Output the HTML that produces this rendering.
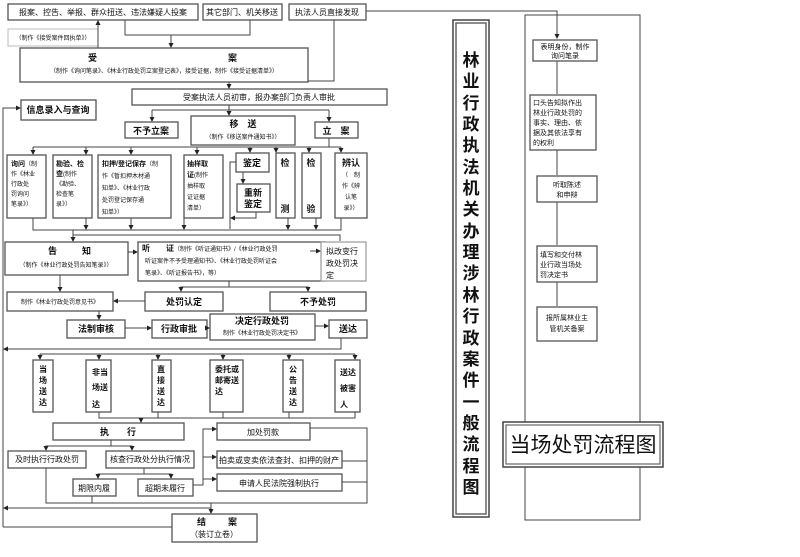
<!DOCTYPE html>
<html><head><meta charset="utf-8"><style>
html,body{margin:0;padding:0;background:#fff}
svg{display:block}
text{font-family:"Liberation Sans","Noto Sans CJK SC",sans-serif;fill:#111}
.b{fill:#fff;stroke:#555;stroke-width:1.3}
.l{fill:none;stroke:#444;stroke-width:1}
.s{font-size:6px}
.r{font-size:7px}
.m{font-size:8px}
.t{font-size:9px;font-weight:bold}
</style></head><body>
<svg width="800" height="557" viewBox="0 0 800 557" xmlns="http://www.w3.org/2000/svg">
<defs><marker id="a" markerWidth="5" markerHeight="5" refX="4" refY="2.5" orient="auto"><path d="M0,0L5,2.5L0,5z" fill="#222"/></marker></defs>

<rect class="b" x="8" y="4" width="190" height="16"/><text class="m" x="103" y="15" text-anchor="middle">报案、控告、举报、群众扭送、违法嫌疑人投案</text>
<rect class="b" x="203" y="4" width="79" height="16"/><text class="m" x="242" y="15" text-anchor="middle">其它部门、机关移送</text>
<rect class="b" x="289" y="4" width="77" height="16"/><text class="m" x="327" y="15" text-anchor="middle">执法人员直接发现</text>
<path class="l" d="M366,11H557V38" marker-end="url(#a)"/>
<rect x="8" y="29" width="90" height="17" fill="#fff" stroke="#bbb"/><text class="s" x="53" y="40" text-anchor="middle">（制作《接受案件回执单》）</text>
<path class="l" d="M98,48V21" marker-end="url(#a)"/>
<path class="l" d="M125,20V35H250V20"/><path class="l" d="M171,35V47" marker-end="url(#a)"/>
<rect class="b" x="20" y="48" width="288" height="34"/>
<text class="t" x="88" y="61">受</text><text class="t" x="228" y="61">案</text>
<text class="s" x="164" y="73" text-anchor="middle">（制作《询问笔录》、《林业行政处罚立案登记表》，接受证据，制作《接受证据清单》）</text>
<path class="l" d="M334,20V81H308"/>
<path class="l" d="M229,82V88" marker-end="url(#a)"/>
<rect class="b" x="132" y="89" width="255" height="16"/><text class="m" x="259" y="100" text-anchor="middle">受案执法人员初审，报办案部门负责人审批</text>
<path class="l" d="M152,110H329"/><path class="l" d="M229,105V115" marker-end="url(#a)"/>
<path class="l" d="M152,110V121" marker-end="url(#a)"/><path class="l" d="M329,110V121" marker-end="url(#a)"/>
<rect class="b" x="125" y="122" width="53" height="16"/><text class="t" x="151" y="134" text-anchor="middle">不予立案</text>
<rect class="b" x="191" y="116" width="104" height="29"/><text class="t" x="243" y="127" text-anchor="middle">移　送</text><text class="s" x="243" y="139" text-anchor="middle">（制作《移送案件通知书》）</text>
<rect class="b" x="315" y="122" width="43" height="16"/><text class="t" x="336" y="134" text-anchor="middle">立　案</text>
<path class="l" d="M329,138V147"/>
<rect class="b" x="21" y="100" width="75" height="20"/><text class="t" x="58" y="113" text-anchor="middle">信息录入与查询</text>
<path class="l" d="M3,527V108H20" marker-end="url(#a)"/>

<path class="l" d="M33,147H341"/>
<g class="l"><path d="M33,147V154" marker-end="url(#a)"/><path d="M86,147V154" marker-end="url(#a)"/><path d="M131,147V154" marker-end="url(#a)"/><path d="M197,147V154" marker-end="url(#a)"/><path d="M250,147V152" marker-end="url(#a)"/><path d="M276,147V152" marker-end="url(#a)"/><path d="M309,147V152" marker-end="url(#a)"/><path d="M341,147V152" marker-end="url(#a)"/></g>
<rect class="b" x="7" y="155" width="39" height="63"/>
<text class="s" x="11" y="166"><tspan font-weight="bold" font-size="7">询问</tspan>（制</text><text class="s" x="11" y="176">作《林业</text><text class="s" x="11" y="186">行政处</text><text class="s" x="11" y="196">罚询问</text><text class="s" x="11" y="206">笔录》）</text>
<rect class="b" x="53" y="155" width="39" height="63"/>
<text class="s" x="56" y="166"><tspan font-weight="bold" font-size="7">勘验、检</tspan></text><text class="s" x="56" y="176"><tspan font-weight="bold" font-size="7">查</tspan>(制作</text><text class="s" x="56" y="186">《勘验、</text><text class="s" x="56" y="196">检查笔</text><text class="s" x="56" y="206">录》）</text>
<rect class="b" x="98" y="155" width="73" height="63"/>
<text class="s" x="102" y="166"><tspan font-weight="bold" font-size="7">扣押/登记保存</tspan>（制</text><text class="s" x="102" y="178">作《暂扣押木材通</text><text class="s" x="102" y="190">知单》、《林业行政</text><text class="s" x="102" y="202">处罚登记保存通</text><text class="s" x="102" y="214">知单》）</text>
<rect class="b" x="184" y="155" width="39" height="63"/>
<text class="s" x="187" y="166"><tspan font-weight="bold" font-size="7">抽样取</tspan></text><text class="s" x="187" y="177"><tspan font-weight="bold" font-size="7">证</tspan>(制作</text><text class="s" x="187" y="188">抽样取</text><text class="s" x="187" y="199">证证据</text><text class="s" x="187" y="210">清单）</text>
<rect class="b" x="236" y="153" width="33" height="19"/><text class="t" x="252" y="166" text-anchor="middle">鉴定</text>
<path class="l" d="M243,172V183" marker-end="url(#a)"/>
<rect class="b" x="237" y="184" width="33" height="28"/><text class="t" x="253" y="196" text-anchor="middle">重新</text><text class="t" x="253" y="207" text-anchor="middle">鉴定</text>
<path class="l" d="M236,162H230V229"/><path class="l" d="M256,212V218H231" marker-end="url(#a)"/>
<rect class="b" x="276" y="153" width="19" height="65"/><text class="t" x="285" y="166" text-anchor="middle">检</text><text class="t" x="285" y="212" text-anchor="middle">测</text>
<rect class="b" x="302" y="153" width="19" height="65"/><text class="t" x="311" y="166" text-anchor="middle">检</text><text class="t" x="311" y="212" text-anchor="middle">验</text>
<rect class="b" x="335" y="153" width="32" height="65"/><text class="t" x="351" y="166" text-anchor="middle">辨认</text>
<text class="s" x="351" y="177" text-anchor="middle">（　制</text><text class="s" x="351" y="188" text-anchor="middle">作《辨</text><text class="s" x="351" y="199" text-anchor="middle">认笔</text><text class="s" x="351" y="210" text-anchor="middle">录》）</text>
<path class="l" d="M33,218V230H341V218"/>
<g class="l"><path d="M86,218V229" marker-end="url(#a)"/><path d="M131,218V229" marker-end="url(#a)"/><path d="M184,218V229" marker-end="url(#a)"/><path d="M288,218V229" marker-end="url(#a)"/><path d="M316,218V229" marker-end="url(#a)"/></g>
<path class="l" d="M73,230V241" marker-end="url(#a)"/>
<path class="l" d="M73,235H340V241"/>

<rect class="b" x="5" y="242" width="123" height="33"/><text class="t" x="48" y="254">告</text><text class="t" x="82" y="254">知</text><text class="s" x="66" y="267" text-anchor="middle">（制作《林业行政处罚告知笔录》）</text>
<path class="l" d="M128,252H137" marker-end="url(#a)"/>
<rect class="b" x="138" y="242" width="187" height="39"/>
<text class="s" x="142" y="251"><tspan font-weight="bold" font-size="8">听　　证</tspan>（制作《听证通知书》/《林业行政处罚</text>
<text class="s" x="145" y="263">听证案件不予受理通知书》、《林业行政处罚听证会</text>
<text class="s" x="145" y="275">笔录》、《听证报告书》，等）</text>
<path class="l" d="M310,251H320" marker-end="url(#a)"/>
<rect x="321" y="242" width="45" height="39" fill="#fff" stroke="#999" stroke-width="1.2"/>
<text class="m" x="326" y="254">拟改变行</text><text class="m" x="326" y="266">政处罚决</text><text class="m" x="326" y="278">定</text>
<path class="l" d="M60,275V291" marker-end="url(#a)"/>
<path class="l" d="M229,281V287H181V291" marker-end="url(#a)"/><path class="l" d="M229,287H308V291" marker-end="url(#a)"/>
<rect class="b" x="7" y="292" width="106" height="19"/><text class="s" x="60" y="304" text-anchor="middle">制作《林业行政处罚意见书》</text>
<rect class="b" x="145" y="292" width="78" height="19"/><text class="t" x="184" y="305" text-anchor="middle">处罚认定</text>
<path class="l" d="M145,301H114" marker-end="url(#a)"/>
<rect class="b" x="270" y="292" width="96" height="19"/><text class="t" x="318" y="305" text-anchor="middle">不予处罚</text>
<path class="l" d="M99,311V319" marker-end="url(#a)"/>
<rect class="b" x="67" y="320" width="58" height="18"/><text class="t" x="96" y="332" text-anchor="middle">法制审核</text>
<path class="l" d="M125,328H151" marker-end="url(#a)"/>
<rect class="b" x="152" y="320" width="55" height="18"/><text class="t" x="179" y="332" text-anchor="middle">行政审批</text>
<path class="l" d="M207,328H209" marker-end="url(#a)"/>
<rect class="b" x="210" y="314" width="105" height="26"/><text class="t" x="262" y="324" text-anchor="middle">决定行政处罚</text><text class="s" x="262" y="335" text-anchor="middle">制作《林业行政处罚决定书》</text>
<path class="l" d="M315,326H328" marker-end="url(#a)"/>
<rect class="b" x="329" y="320" width="38" height="18"/><text class="t" x="348" y="332" text-anchor="middle">送达</text>
<path class="l" d="M341,338V349H4" marker-end="url(#a)"/>

<path class="l" d="M40,354H355"/>
<g class="l"><path d="M40,354V359" marker-end="url(#a)"/><path d="M99,354V359" marker-end="url(#a)"/><path d="M158,354V359" marker-end="url(#a)"/><path d="M223,354V359" marker-end="url(#a)"/><path d="M289,354V359" marker-end="url(#a)"/><path d="M355,354V359" marker-end="url(#a)"/></g>
<rect class="b" x="33" y="360" width="20" height="52"/><text x="43" y="372" text-anchor="middle" font-size="8" font-weight="bold">当</text><text x="43" y="383" text-anchor="middle" font-size="8" font-weight="bold">场</text><text x="43" y="394" text-anchor="middle" font-size="8" font-weight="bold">送</text><text x="43" y="405" text-anchor="middle" font-size="8" font-weight="bold">达</text>
<rect class="b" x="86" y="360" width="25" height="52"/><text x="92" y="375" font-size="8" font-weight="bold">非当</text><text x="92" y="390" font-size="8" font-weight="bold">场送</text><text x="92" y="407" font-size="8" font-weight="bold">达</text>
<rect class="b" x="152" y="360" width="19" height="52"/><text x="161" y="372" text-anchor="middle" font-size="8" font-weight="bold">直</text><text x="161" y="383" text-anchor="middle" font-size="8" font-weight="bold">接</text><text x="161" y="394" text-anchor="middle" font-size="8" font-weight="bold">送</text><text x="161" y="405" text-anchor="middle" font-size="8" font-weight="bold">达</text>
<rect class="b" x="210" y="360" width="33" height="52"/><text x="215" y="372" font-size="8" font-weight="bold">委托或</text><text x="215" y="383" font-size="8" font-weight="bold">邮寄送</text><text x="215" y="394" font-size="8" font-weight="bold">达</text>
<rect class="b" x="283" y="360" width="20" height="52"/><text x="293" y="372" text-anchor="middle" font-size="8" font-weight="bold">公</text><text x="293" y="383" text-anchor="middle" font-size="8" font-weight="bold">告</text><text x="293" y="394" text-anchor="middle" font-size="8" font-weight="bold">送</text><text x="293" y="405" text-anchor="middle" font-size="8" font-weight="bold">达</text>
<rect class="b" x="335" y="360" width="25" height="52"/><text x="340" y="375" font-size="8" font-weight="bold">送达</text><text x="340" y="391" font-size="8" font-weight="bold">被害</text><text x="340" y="407" font-size="8" font-weight="bold">人</text>
<path class="l" d="M99,412V418H355V412M158,412V418M223,412V418M289,412V418"/>
<path class="l" d="M141,418V422" marker-end="url(#a)"/>
<rect class="b" x="53" y="423" width="131" height="17"/><text class="t" x="118" y="435" text-anchor="middle">执　　行</text>
<path class="l" d="M111,440V446H46V450" marker-end="url(#a)"/><path class="l" d="M111,446H132V450" marker-end="url(#a)"/>
<rect class="b" x="8" y="451" width="78" height="17"/><text class="m" x="47" y="462" text-anchor="middle">及时执行行政处罚</text>
<rect class="b" x="106" y="451" width="88" height="17"/><text class="m" x="150" y="462" text-anchor="middle">核查行政处分执行情况</text>
<path class="l" d="M144,468V474H98V478" marker-end="url(#a)"/><path class="l" d="M144,474H171V478" marker-end="url(#a)"/>
<rect class="b" x="73" y="479" width="43" height="17"/><text class="m" x="94" y="491" text-anchor="middle">期限内履</text>
<rect class="b" x="138" y="479" width="55" height="17"/><text class="m" x="165" y="491" text-anchor="middle">超期未履行</text>
<path class="l" d="M193,485H203V429H216" marker-end="url(#a)"/><path class="l" d="M203,457H216" marker-end="url(#a)"/><path class="l" d="M203,479H216" marker-end="url(#a)"/>
<rect class="b" x="217" y="423" width="93" height="17"/><text class="m" x="263" y="435" text-anchor="middle">加处罚款</text>
<rect class="b" x="217" y="451" width="125" height="17"/><text class="m" x="279" y="463" text-anchor="middle">拍卖或变卖依法查封、扣押的财产</text>
<rect class="b" x="217" y="474" width="125" height="17"/><text class="m" x="279" y="486" text-anchor="middle">申请人民法院强制执行</text>
<path class="l" d="M310,428H367V503H46V468M92,496V503M342,461H367M342,482H367"/>
<path class="l" d="M211,503V513" marker-end="url(#a)"/>
<path class="l" d="M211,508H4" marker-end="url(#a)"/>
<path class="l" d="M3,527H172"/>
<rect class="b" x="172" y="514" width="85" height="28"/><text class="t" x="197" y="525">结</text><text class="t" x="228" y="525">案</text><text class="m" x="214" y="537" text-anchor="middle">（装订立卷）</text>

<rect x="453" y="20" width="36" height="497" fill="#fff" stroke="#444" stroke-width="1.5"/>
<rect x="456" y="23" width="30" height="491" fill="none" stroke="#666" stroke-width="1.5"/>
<g font-family="Liberation Serif,'Noto Serif CJK SC',serif" font-size="17" text-anchor="middle" font-weight="bold">
<text x="471" y="66">林</text><text x="471" y="87">业</text><text x="471" y="109">行</text><text x="471" y="130">政</text><text x="471" y="151">执</text><text x="471" y="173">法</text><text x="471" y="194">机</text><text x="471" y="215">关</text><text x="471" y="237">办</text><text x="471" y="258">理</text><text x="471" y="279">涉</text><text x="471" y="301">林</text><text x="471" y="322">行</text><text x="471" y="344">政</text><text x="471" y="365">案</text><text x="471" y="386">件</text><text x="471" y="408">一</text><text x="471" y="429">般</text><text x="471" y="450">流</text><text x="471" y="472">程</text><text x="471" y="493">图</text>
</g>

<rect x="525" y="15" width="115" height="505" fill="none" stroke="#444"/>
<path class="l" d="M557,61V94M557,150V175M557,202V245M557,282V306"/>
<rect class="b" x="533" y="40" width="64" height="21"/><text class="r" x="565" y="49" text-anchor="middle">表明身份，制作</text><text class="r" x="565" y="58" text-anchor="middle">询问笔录</text>
<rect class="b" x="530" y="95" width="66" height="55"/><text class="r" x="533" y="105">口头告知拟作出</text><text class="r" x="533" y="115">林业行政处罚的</text><text class="r" x="533" y="125">事实、理由、依</text><text class="r" x="533" y="135">据及其依法享有</text><text class="r" x="533" y="145">的权利</text>
<rect class="b" x="537" y="176" width="60" height="26"/><text class="r" x="567" y="187" text-anchor="middle">听取陈述</text><text class="r" x="567" y="197" text-anchor="middle">和申辩</text>
<rect class="b" x="537" y="246" width="60" height="36"/><text class="r" x="540" y="257">填写和交付林</text><text class="r" x="540" y="267">业行政当场处</text><text class="r" x="540" y="277">罚决定书</text>
<rect class="b" x="537" y="307" width="60" height="34"/><text class="r" x="567" y="320" text-anchor="middle">报所属林业主</text><text class="r" x="567" y="331" text-anchor="middle">管机关备案</text>
<rect x="503" y="422" width="160" height="45" fill="#fff" stroke="#444" stroke-width="1.5"/>
<rect x="506" y="425" width="154" height="39" fill="none" stroke="#666" stroke-width="1.2"/>
<text x="583" y="452" text-anchor="middle" font-size="21" font-family="Liberation Serif,'Noto Serif CJK SC',serif">当场处罚流程图</text>
</svg>
</body></html>
